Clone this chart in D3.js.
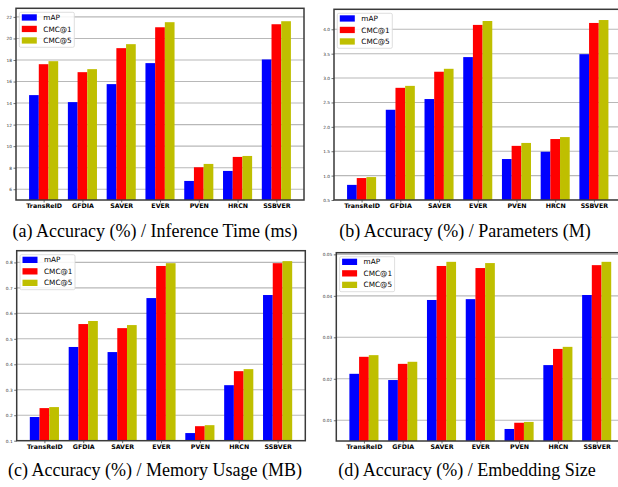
<!DOCTYPE html>
<html>
<head>
<meta charset="utf-8">
<script src="https://cdn.jsdelivr.net/npm/d3@7"></script>
<style>
html,body{margin:0;padding:0;background:#fff;}
svg{display:block;}
</style>
</head>
<body>
<svg id="chart" width="618" height="487"></svg>
<script>
// ---------- data ----------
const categories = ["TransReID","GFDIA","SAVER","EVER","PVEN","HRCN","SSBVER"];
const seriesNames = ["mAP","CMC@1","CMC@5"];

const inferenceMAP  = [14.74, 14.09, 15.76, 17.71, 6.77, 7.70, 18.05];
const inferenceCMC1 = [17.61, 16.87, 19.10, 21.04, 8.04, 9.00, 21.32];
const inferenceCMC5 = [17.89, 17.15, 19.47, 21.51, 8.35, 9.09, 21.60];

const paramsMAP  = [0.81, 2.35, 2.57, 3.43, 1.34, 1.49, 3.49];
const paramsCMC1 = [0.95, 2.80, 3.13, 4.09, 1.61, 1.75, 4.13];
const paramsCMC5 = [0.97, 2.84, 3.19, 4.17, 1.67, 1.79, 4.19];

const memoryMAP  = [0.193, 0.468, 0.448, 0.660, 0.130, 0.318, 0.672];
const memoryCMC1 = [0.228, 0.558, 0.542, 0.786, 0.157, 0.373, 0.797];
const memoryCMC5 = [0.232, 0.570, 0.554, 0.797, 0.161, 0.381, 0.805];

const embedMAP  = [0.0212, 0.0197, 0.0390, 0.0392, 0.0079, 0.0233, 0.0402];
const embedCMC1 = [0.0253, 0.0236, 0.0472, 0.0467, 0.0094, 0.0272, 0.0474];
const embedCMC5 = [0.0257, 0.0241, 0.0482, 0.0479, 0.0096, 0.0277, 0.0482];

const inferenceTicks = [6, 8, 10, 12, 14, 16, 18, 20, 22];
const paramsTicks    = [0.5, 1.0, 1.5, 2.0, 2.5, 3.0, 3.5, 4.0];
const memoryTicks    = [0.1, 0.2, 0.3, 0.4, 0.5, 0.6, 0.7, 0.8];
const embedTicks     = [0.01, 0.02, 0.03, 0.04, 0.05];

const captions = [
  "(a) Accuracy (%) / Inference Time (ms)",
  "(b) Accuracy (%) / Parameters (M)",
  "(c) Accuracy (%) / Memory Usage (MB)",
  "(d) Accuracy (%) / Embedding Size"
];

// ---------- layout / style ----------
const colors = ["#0000ff", "#ff0000", "#bfbf00"];
const barW = 0.25;
const xDomain = [-0.7125, 6.7125];

const panels = [
  {series:[inferenceMAP, inferenceCMC1, inferenceCMC5], ticks:inferenceTicks, fmt:d3.format("d"),
   yDomain:[5, 22.8], left:16, right:304, top:8.3, bottom:200,
   caption:captions[0], capX:155, capY:236.5},
  {series:[paramsMAP, paramsCMC1, paramsCMC5], ticks:paramsTicks, fmt:d3.format(".1f"),
   yDomain:[0.5, 4.41], left:334, right:621.5, top:9.3, bottom:200,
   caption:captions[1], capX:465, capY:236.5},
  {series:[memoryMAP, memoryCMC1, memoryCMC5], ticks:memoryTicks, fmt:d3.format(".1f"),
   yDomain:[0.1, 0.846], left:16.7, right:305.3, top:250.7, bottom:440.7,
   caption:captions[2], capX:155, capY:476},
  {series:[embedMAP, embedCMC1, embedCMC5], ticks:embedTicks, fmt:d3.format(".2f"),
   yDomain:[0.005, 0.0504], left:336.3, right:624.3, top:252.7, bottom:441,
   caption:captions[3], capX:467, capY:476}
];

const svg = d3.select("#chart");

panels.forEach(p => {
  const g = svg.append("g");
  const x = d3.scaleLinear().domain(xDomain).range([p.left, p.right]);
  const y = d3.scaleLinear().domain(p.yDomain).range([p.bottom, p.top]);

  const clipId = "clip" + Math.round(p.left) + "_" + Math.round(p.top);
  svg.append("clipPath").attr("id", clipId).append("rect")
    .attr("x", p.left).attr("y", p.top)
    .attr("width", p.right - p.left).attr("height", p.bottom - p.top);

  const inner = g.append("g").attr("clip-path", `url(#${clipId})`);

  // grid
  inner.selectAll("line.grid").data(p.ticks).join("line")
    .attr("class","grid")
    .attr("x1", p.left).attr("x2", p.right)
    .attr("y1", d => y(d)).attr("y2", d => y(d))
    .attr("stroke", "#b8b8b8").attr("stroke-width", 1.1);

  // bars
  p.series.forEach((vals, si) => {
    inner.selectAll("rect.s" + si).data(vals).join("rect")
      .attr("class", "s" + si)
      .attr("x", (d, i) => x(i + (si - 1) * barW - barW / 2))
      .attr("width", (d, i) => x(i + (si - 1) * barW + barW / 2) - x(i + (si - 1) * barW - barW / 2))
      .attr("y", d => y(d))
      .attr("height", d => y(p.yDomain[0]) - y(d))
      .attr("fill", colors[si]);
  });

  // y axis
  const yAxis = d3.axisLeft(y).tickValues(p.ticks).tickFormat(p.fmt).tickSize(2.5).tickPadding(1.5);
  const ya = g.append("g").attr("transform", `translate(${p.left},0)`).call(yAxis);
  ya.select(".domain").remove();
  ya.selectAll(".tick line").attr("stroke", "#333").attr("stroke-width", 0.7);
  ya.selectAll(".tick text").attr("font-family", "DejaVu Sans").attr("font-size", 4.3).attr("fill", "#333");

  // x axis
  const xAxis = d3.axisBottom(x).tickValues(d3.range(categories.length))
    .tickFormat(i => categories[i]).tickSize(2.5).tickPadding(1.2);
  const xa = g.append("g").attr("transform", `translate(0,${p.bottom})`).call(xAxis);
  xa.select(".domain").remove();
  xa.selectAll(".tick line").attr("stroke", "#333").attr("stroke-width", 0.7);
  xa.selectAll(".tick text").attr("font-family", "DejaVu Sans").attr("font-weight", "bold")
    .attr("font-size", 6.3).attr("fill", "#000");

  // frame
  g.append("rect").attr("x", p.left).attr("y", p.top)
    .attr("width", p.right - p.left).attr("height", p.bottom - p.top)
    .attr("fill", "none").attr("stroke", "#3a3a3a").attr("stroke-width", 1.5);

  // legend
  const lg = g.append("g").attr("transform", `translate(${p.left + 3.3},${p.top + 4})`);
  lg.append("rect").attr("x", 0).attr("y", 0).attr("width", 55).attr("height", 35)
    .attr("rx", 1.5).attr("fill", "#fff").attr("fill-opacity", 0.85)
    .attr("stroke", "#d6d6d6").attr("stroke-width", 0.8);
  seriesNames.forEach((name, si) => {
    const ry = 2 + si * 11.5;
    lg.append("rect").attr("x", 2.5).attr("y", ry).attr("width", 15).attr("height", 6.3).attr("fill", colors[si]);
    lg.append("text").attr("x", 24).attr("y", ry + 5.8).text(name)
      .attr("font-family", "DejaVu Sans").attr("font-size", 7.3).attr("fill", "#000");
  });

  // caption
  svg.append("text").attr("x", p.capX).attr("y", p.capY).text(p.caption)
    .attr("text-anchor", "middle")
    .attr("font-family", "Liberation Serif, Times New Roman, serif").attr("font-size", 18).attr("fill", "#000");
});
</script>
</body>
</html>
